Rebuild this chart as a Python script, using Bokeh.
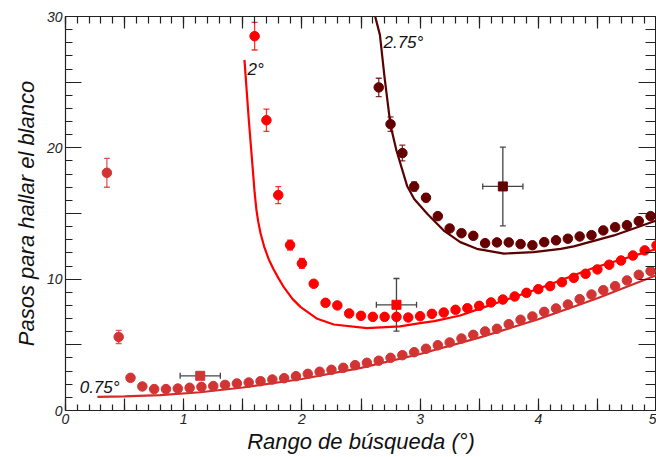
from bokeh.plotting import figure
from bokeh.models import Range1d, LinearAxis, FixedTicker, ColumnDataSource, Whisker, TeeHead, Label
from bokeh.embed import file_html
from bokeh.resources import INLINE

# ---------------- data ----------------
x_low = [0.35, 0.45, 0.55, 0.65, 0.75, 0.85, 0.95, 1.05, 1.15, 1.25, 1.35, 1.45, 1.55, 1.65,
         1.75, 1.85, 1.95, 2.05, 2.15, 2.25, 2.35, 2.45, 2.55, 2.65, 2.75, 2.85, 2.95, 3.05,
         3.15, 3.25, 3.35, 3.45, 3.55, 3.65, 3.75, 3.85, 3.95, 4.05, 4.15, 4.25, 4.35, 4.45,
         4.55, 4.65, 4.75, 4.85, 4.95]
y_low = [18.1, 5.6, 2.49, 1.83, 1.63, 1.63, 1.67, 1.73, 1.80, 1.86, 1.95, 2.06, 2.13, 2.23,
         2.36, 2.46, 2.61, 2.79, 2.95, 3.10, 3.25, 3.45, 3.63, 3.79, 4.01, 4.21, 4.44, 4.70,
         4.97, 5.18, 5.48, 5.76, 6.02, 6.22, 6.57, 6.91, 7.16, 7.51, 7.77, 8.07, 8.48, 8.83,
         9.16, 9.47, 9.90, 10.33, 10.61]
err_low = [1.1, 0.5]

x_mid = [1.6, 1.7, 1.8, 1.9, 2.0, 2.1, 2.2, 2.3, 2.4, 2.5, 2.6, 2.7, 2.8, 2.9, 3.0, 3.1, 3.2,
         3.3, 3.4, 3.5, 3.6, 3.7, 3.8, 3.9, 4.0, 4.1, 4.2, 4.3, 4.4, 4.5, 4.6, 4.7, 4.8, 4.9, 5.0]
y_mid = [28.5, 22.1, 16.4, 12.6, 11.2, 9.65, 8.2, 8.0, 7.39, 7.21, 7.13, 7.13, 7.13, 7.08, 7.18,
         7.36, 7.46, 7.67, 7.79, 7.97, 8.23, 8.45, 8.68, 8.96, 9.24, 9.47, 9.77, 10.1, 10.41,
         10.74, 11.1, 11.42, 11.8, 12.19, 12.57]
err_mid = [1.05, 0.85, 0.65, 0.38, 0.38]

x_up = [2.65, 2.75, 2.85, 2.95, 3.05, 3.15, 3.25, 3.35, 3.45, 3.55, 3.65, 3.75, 3.85, 3.95,
        4.05, 4.15, 4.25, 4.35, 4.45, 4.55, 4.65, 4.75, 4.85, 4.95]
y_up = [24.6, 21.8, 19.6, 17.05, 16.2, 14.8, 13.86, 13.5, 13.3, 12.74, 12.8, 12.8, 12.67, 12.58,
        12.82, 12.96, 13.08, 13.25, 13.35, 13.71, 13.96, 14.11, 14.42, 14.8]
err_up = [0.7, 0.55, 0.6, 0.35, 0.3]

# model curves
fit_low_x = [0.27, 0.5, 0.8, 1.14, 1.5, 2.0, 2.5, 3.0, 3.5, 4.0, 4.5, 5.0]
fit_low_y = [1.04, 1.08, 1.17, 1.39, 1.75, 2.4, 3.25, 4.3, 5.55, 6.95, 8.55, 10.3]

fit_mid_x = [1.514, 1.551, 1.585, 1.60, 1.615, 1.63, 1.65, 1.68, 1.72, 1.76, 1.80, 1.85,
             1.92, 1.99, 2.13, 2.27, 2.55, 2.83, 3.0, 3.12, 3.34, 3.5, 4.0, 4.47, 5.0]
fit_mid_y = [26.7, 22.1, 18.3, 16.6, 15.3, 14.4, 13.5, 12.5, 11.5, 10.75, 10.1, 9.35,
             8.5, 7.87, 6.98, 6.55, 6.27, 6.4, 6.65, 6.8, 7.23, 7.74, 9.27, 10.87, 12.3]

fit_up_x = [2.62, 2.66, 2.70, 2.75, 2.80, 2.89, 2.95, 3.06, 3.20, 3.34, 3.48, 3.71, 3.96,
            4.19, 4.30, 4.64, 5.0]
fit_up_y = [30.0, 28.6, 25.3, 21.7, 19.8, 17.1, 16.1, 14.98, 13.7, 12.82, 12.31, 11.95, 12.06,
            12.31, 12.5, 13.33, 14.47]

# reference markers with x/y uncertainty
sq_x = [1.14, 2.80, 3.70]
sq_y = [2.64, 8.05, 17.06]
sq_xerr = [0.17, 0.17, 0.17]
sq_yerr = [0.0, 2.0, 3.0]

curve_labels = ["0.75°", "2°", "2.75°"]

x_major_ticks = [0, 0.5, 1, 1.5, 2, 2.5, 3, 3.5, 4, 4.5, 5]
x_tick_labels = {0: "0", 1: "1", 2: "2", 3: "3", 4: "4", 5: "5"}
y_major_ticks = [0, 5, 10, 15, 20, 25, 30]
y_tick_labels = {0: "0", 10: "10", 20: "20", 30: "30"}

x_minor_ticks = [round(0.1 * i, 1) for i in range(51)]
y_minor_ticks = list(range(31))

# ---------------- style ----------------
C_LOW, C_MID, C_UP = "#d23434", "#ff0000", "#660000"
L_LOW, L_MID, L_UP = "#d42a2a", "#ff0000", "#5a0000"
AX = "#222222"
FONT = "Liberation Sans"

p = figure(width=656, height=457, x_range=Range1d(0, 5), y_range=Range1d(0, 30),
           output_backend="svg", toolbar_location=None,
           min_border_left=65, min_border_right=0, min_border_top=16, min_border_bottom=47,
           x_axis_label="Rango de búsqueda (°)", y_axis_label="Pasos para hallar el blanco")
p.grid.visible = False
p.outline_line_color = AX
p.background_fill_color = "white"
p.border_fill_color = "white"

xover = {t: x_tick_labels.get(t, "") for t in x_major_ticks}
yover = {t: y_tick_labels.get(t, "") for t in y_major_ticks}


def style_axis(ax, major_in, minor_in):
    ax.major_tick_in = major_in
    ax.major_tick_out = 0
    ax.minor_tick_in = minor_in
    ax.minor_tick_out = 0
    ax.axis_line_color = AX
    ax.major_tick_line_color = AX
    ax.minor_tick_line_color = AX
    ax.axis_line_width = 1.2
    ax.major_tick_line_width = 1.2
    ax.minor_tick_line_width = 1.2
    ax.major_label_text_font = FONT
    ax.major_label_text_font_style = "italic"
    ax.major_label_text_font_size = "14px"
    ax.major_label_text_color = AX
    ax.axis_label_text_font = FONT
    ax.axis_label_text_font_style = "italic"
    ax.axis_label_text_font_size = "22px"
    ax.axis_label_text_color = "#111111"


xb = p.below[0]
xb.ticker = FixedTicker(ticks=x_major_ticks, minor_ticks=x_minor_ticks)
xb.major_label_overrides = xover
style_axis(xb, 12, 6)
xb.major_label_standoff = 3
xb.axis_label_standoff = 2

yl = p.left[0]
yl.ticker = FixedTicker(ticks=y_major_ticks, minor_ticks=y_minor_ticks)
yl.major_label_overrides = yover
style_axis(yl, 16, 7)
yl.major_label_standoff = 3
yl.axis_label_standoff = 5

# mirrored tick axes on top and right (no labels)
xt = LinearAxis(ticker=FixedTicker(ticks=x_major_ticks, minor_ticks=x_minor_ticks))
style_axis(xt, 12, 7)
xt.major_label_overrides = {t: "" for t in x_major_ticks}
xt.major_label_standoff = 0
xt.major_label_text_font_size = "8px"
p.add_layout(xt, "above")

yr = LinearAxis(ticker=FixedTicker(ticks=y_major_ticks, minor_ticks=y_minor_ticks))
style_axis(yr, 18, 11)
yr.major_label_overrides = {t: "" for t in y_major_ticks}
yr.major_label_standoff = 0
yr.major_label_text_font_size = "8px"
p.add_layout(yr, "right")

# curves
p.line(fit_low_x, fit_low_y, line_color=L_LOW, line_width=2.2)
p.line(fit_mid_x, fit_mid_y, line_color=L_MID, line_width=2.2)
p.line(fit_up_x, fit_up_y, line_color=L_UP, line_width=2.2)


def add_err(xs, ys, errs, color):
    n = len(errs)
    src = ColumnDataSource(dict(base=xs[:n],
                                lower=[ys[i] - errs[i] for i in range(n)],
                                upper=[ys[i] + errs[i] for i in range(n)]))
    w = Whisker(source=src, base="base", lower="lower", upper="upper", dimension="height",
                line_color=color, line_width=1.3, line_alpha=0.8,
                upper_head=TeeHead(size=6, line_color=color, line_width=1.3, line_alpha=0.8),
                lower_head=TeeHead(size=6, line_color=color, line_width=1.3, line_alpha=0.8))
    p.add_layout(w)


add_err(x_low, y_low, err_low, C_LOW)
add_err(x_mid, y_mid, err_mid, C_MID)
add_err(x_up, y_up, err_up, C_UP)

# crosshair error bars for square markers
CROSS = "#444444"
xsrc = ColumnDataSource(dict(base=sq_y,
                             lower=[sq_x[i] - sq_xerr[i] for i in range(3)],
                             upper=[sq_x[i] + sq_xerr[i] for i in range(3)]))
p.add_layout(Whisker(source=xsrc, base="base", lower="lower", upper="upper", dimension="width",
                     line_color=CROSS, line_width=1.3,
                     upper_head=TeeHead(size=6, line_color=CROSS, line_width=1.3),
                     lower_head=TeeHead(size=6, line_color=CROSS, line_width=1.3)))
ysrc = ColumnDataSource(dict(base=sq_x[1:],
                             lower=[sq_y[i] - sq_yerr[i] for i in range(1, 3)],
                             upper=[sq_y[i] + sq_yerr[i] for i in range(1, 3)]))
p.add_layout(Whisker(source=ysrc, base="base", lower="lower", upper="upper", dimension="height",
                     line_color=CROSS, line_width=1.3,
                     upper_head=TeeHead(size=6, line_color=CROSS, line_width=1.3),
                     lower_head=TeeHead(size=6, line_color=CROSS, line_width=1.3)))

# data points
p.scatter(x_low, y_low, size=9.5, color=C_LOW)
p.scatter(x_mid, y_mid, size=9.5, color=C_MID)
p.scatter(x_up, y_up, size=9.5, color=C_UP)
p.scatter(sq_x, sq_y, marker="square", size=9,
          fill_color=[C_LOW, C_MID, C_UP], line_color=[C_LOW, C_MID, C_UP])

# curve labels
label_pos = [(0.12, 1.75), (1.54, 26.0), (2.69, 28.05)]
for txt, (lx, ly) in zip(curve_labels, label_pos):
    p.add_layout(Label(x=lx, y=ly, text=txt, text_font=FONT, text_font_style="italic",
                       text_font_size="17px", text_color="#111111", text_baseline="middle",
                       text_align="left"))

open("out.html", "w").write(file_html(p, INLINE))
